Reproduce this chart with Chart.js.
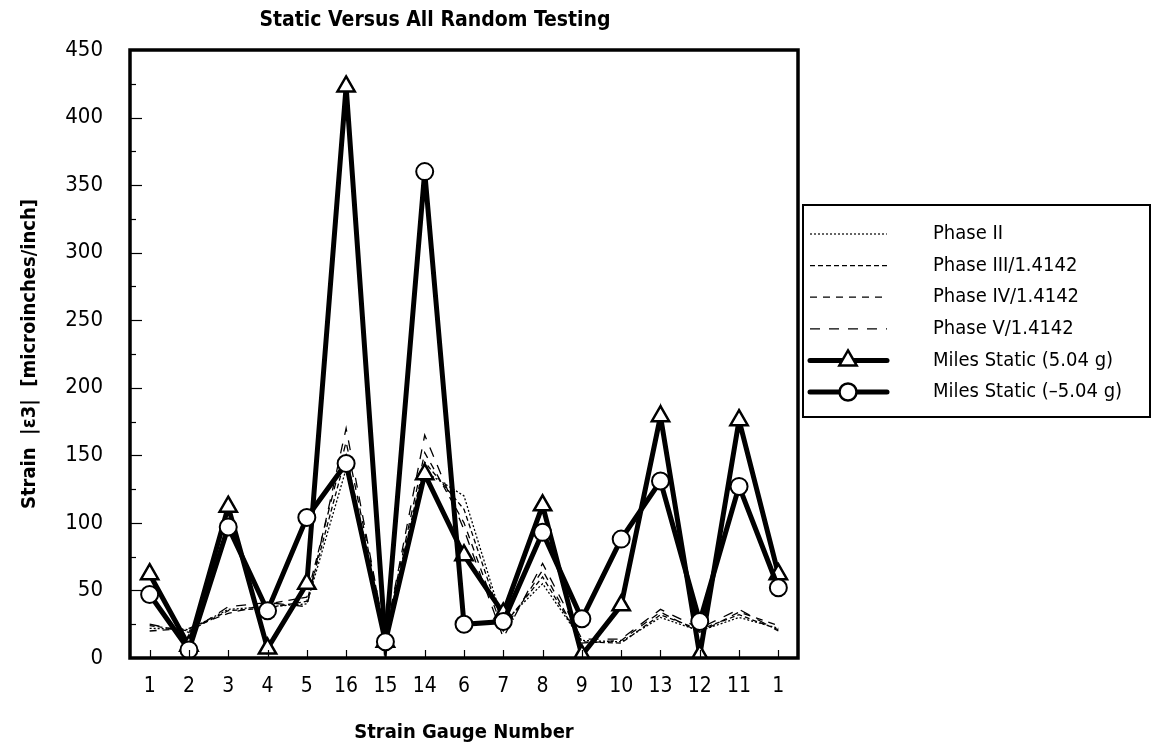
<!DOCTYPE html>
<html>
<head>
<meta charset="utf-8">
<script src="https://cdn.jsdelivr.net/npm/chart.js@4.4.1/dist/chart.umd.min.js"></script>
<style>
  html, body { margin: 0; padding: 0; background: #fff; }
  #wrap { width: 1156px; height: 750px; }
</style>
</head>
<body>
<div id="wrap"><canvas id="strainChart" width="1156" height="750"></canvas></div>
<script>
// STRAIN GAUGE DATA
const gauges = ['1', '2', '3', '4', '5', '16', '15', '14', '6', '7', '8', '9', '10', '13', '12', '11', '1'];

const phase2 = [22, 21, 36, 38, 40, 140, 15, 138, 120, 26, 55, 13, 12, 30, 20, 30, 22];
const phase3 = [24, 20, 35, 37, 42, 150, 17, 145, 110, 24, 60, 12, 11, 32, 21, 32, 21];
const phase4 = [20, 22, 33, 40, 45, 160, 18, 152, 100, 20, 65, 11, 13, 34, 19, 34, 24];
const phase5 = [25, 19, 38, 41, 38, 170, 16, 165, 95, 15, 70, 14, 14, 36, 22, 36, 20];

const milesPos = [62, 9, 112, 7, 55, 423, 12, 136, 76, 33, 113, 2, 39, 179, 2, 176, 62];
const milesNeg = [47, 6, 97, 35, 104, 144, 12, 360, 25, 27, 93, 29, 88, 131, 27, 127, 52];

const yTicks = [0, 50, 100, 150, 200, 250, 300, 350, 400, 450];

const FONT = '"Liberation Sans Narrow", "DejaVu Sans Condensed", "Arial Narrow", sans-serif';

const legendItems = [
    { label: 'Phase II', dash: [2, 2], width: 1.2 },
    { label: 'Phase III/1.4142', dash: [5, 3], width: 1.2 },
    { label: 'Phase IV/1.4142', dash: [7, 6], width: 1.2 },
    { label: 'Phase V/1.4142', dash: [10, 9], width: 1.2 },
    { label: 'Miles Static (5.04 g)', dash: [], width: 5, marker: 'triangle' },
    { label: 'Miles Static (\u20135.04 g)', dash: [], width: 5, marker: 'circle' }
];

function drawMarker(ctx, type, x, y) {
    ctx.save();
    ctx.setLineDash([]);
    ctx.fillStyle = '#fff';
    ctx.strokeStyle = '#000';
    ctx.lineWidth = 2.5;
    ctx.beginPath();
    if (type === 'triangle') {
        const r = 10;
        ctx.moveTo(x, y - r);
        ctx.lineTo(x + r * 0.866, y + r * 0.5);
        ctx.lineTo(x - r * 0.866, y + r * 0.5);
        ctx.closePath();
    } else {
        ctx.arc(x, y, 8.5, 0, Math.PI * 2);
    }
    ctx.fill();
    ctx.stroke();
    ctx.restore();
}

// frame, inward ticks, title and legend box
const decorations = {
    id: 'decorations',
    afterDraw(chart) {
        const ctx = chart.ctx;
        const area = chart.chartArea;
        const xs = chart.scales.x;
        const ys = chart.scales.y;

        ctx.save();
        ctx.strokeStyle = '#000';
        ctx.setLineDash([]);

        // y ticks (major every 50, minor every 25)
        ctx.lineWidth = 1.2;
        for (let v = 25; v < 450; v += 25) {
            const py = Math.round(ys.getPixelForValue(v)) + 0.5;
            const len = (v % 50 === 0) ? 12 : 6;
            ctx.beginPath();
            ctx.moveTo(area.left, py);
            ctx.lineTo(area.left + len, py);
            ctx.stroke();
        }

        // x ticks
        for (let i = 0; i < gauges.length; i++) {
            const px = Math.round(xs.getPixelForValue(i)) + 0.5;
            ctx.beginPath();
            ctx.moveTo(px, area.bottom);
            ctx.lineTo(px, area.bottom - 8);
            ctx.stroke();
        }

        // plot frame
        ctx.lineWidth = 3.5;
        ctx.strokeRect(area.left, area.top, area.right - area.left, area.bottom - area.top);

        // title
        ctx.fillStyle = '#000';
        ctx.font = 'bold 21px ' + FONT;
        ctx.textAlign = 'center';
        ctx.textBaseline = 'middle';
        ctx.fillText('Static Versus All Random Testing', 435, 21);

        // legend
        const boxL = 803, boxT = 205, boxR = 1150, boxB = 417;
        ctx.lineWidth = 2;
        ctx.strokeRect(boxL, boxT, boxR - boxL, boxB - boxT);

        ctx.font = '20px ' + FONT;
        ctx.textAlign = 'left';
        legendItems.forEach((item, idx) => {
            const y = 234 + idx * 31.6;
            ctx.save();
            ctx.lineWidth = item.width;
            ctx.setLineDash(item.dash);
            ctx.lineCap = item.width > 2 ? 'round' : 'butt';
            ctx.beginPath();
            ctx.moveTo(810, y);
            ctx.lineTo(887, y);
            ctx.stroke();
            ctx.restore();
            if (item.marker) drawMarker(ctx, item.marker, 848, y);
            ctx.fillStyle = '#000';
            ctx.fillText(item.label, 933, y);
        });

        ctx.restore();
    }
};

function phaseSet(label, data, dash) {
    return {
        label: label,
        data: data,
        borderColor: '#000',
        borderWidth: 1.3,
        borderDash: dash,
        pointRadius: 0,
        tension: 0,
        fill: false,
        order: 2
    };
}

function setupStrainChart() {
    const ctx = document.getElementById('strainChart').getContext('2d');

    new Chart(ctx, {
        type: 'line',
        data: {
            labels: gauges,
            datasets: [
                phaseSet('Phase II', phase2, [2, 2]),
                phaseSet('Phase III/1.4142', phase3, [5, 3]),
                phaseSet('Phase IV/1.4142', phase4, [7, 6]),
                phaseSet('Phase V/1.4142', phase5, [10, 9]),
                {
                    label: 'Miles Static (5.04 g)',
                    data: milesPos,
                    borderColor: '#000',
                    borderWidth: 5,
                    pointStyle: 'triangle',
                    pointRadius: 10,
                    pointBackgroundColor: '#fff',
                    pointBorderColor: '#000',
                    pointBorderWidth: 2.5,
                    tension: 0,
                    order: 1
                },
                {
                    label: 'Miles Static (\u20135.04 g)',
                    data: milesNeg,
                    borderColor: '#000',
                    borderWidth: 5,
                    pointStyle: 'circle',
                    pointRadius: 8.5,
                    pointBackgroundColor: '#fff',
                    pointBorderColor: '#000',
                    pointBorderWidth: 2,
                    tension: 0,
                    order: 0
                }
            ]
        },
        options: {
            responsive: false,
            animation: false,
            layout: {
                padding: { top: 50, right: 358, bottom: 0, left: 0 }
            },
            plugins: {
                legend: { display: false },
                title: { display: false },
                tooltip: { enabled: false }
            },
            scales: {
                x: {
                    offset: true,
                    grid: { display: false, drawTicks: false },
                    border: { display: false },
                    ticks: {
                        color: '#000',
                        padding: 16,
                        autoSkip: false,
                        maxRotation: 0,
                        font: { family: FONT, size: 21 }
                    },
                    title: {
                        display: true,
                        text: 'Strain Gauge Number',
                        color: '#000',
                        padding: { top: 0, bottom: 5 },
                        font: { family: FONT, size: 20, weight: 'bold' }
                    },
                    afterFit: (scale) => { scale.height = 92; }
                },
                y: {
                    min: 0,
                    max: 450,
                    grid: { display: false, drawTicks: false },
                    border: { display: false },
                    afterBuildTicks: (scale) => { scale.ticks = yTicks.map(v => ({ value: v })); },
                    ticks: {
                        color: '#000',
                        padding: 27,
                        font: { family: FONT, size: 22 }
                    },
                    title: {
                        display: true,
                        text: 'Strain  |\u03b53|  [microinches/inch]',
                        color: '#000',
                        padding: { top: 18, bottom: 0 },
                        font: { family: FONT, size: 20, weight: 'bold' }
                    },
                    afterFit: (scale) => { scale.width = 130; }
                }
            }
        },
        plugins: [decorations]
    });
}

document.addEventListener('DOMContentLoaded', () => {
    setupStrainChart();
});
</script>
</body>
</html>
